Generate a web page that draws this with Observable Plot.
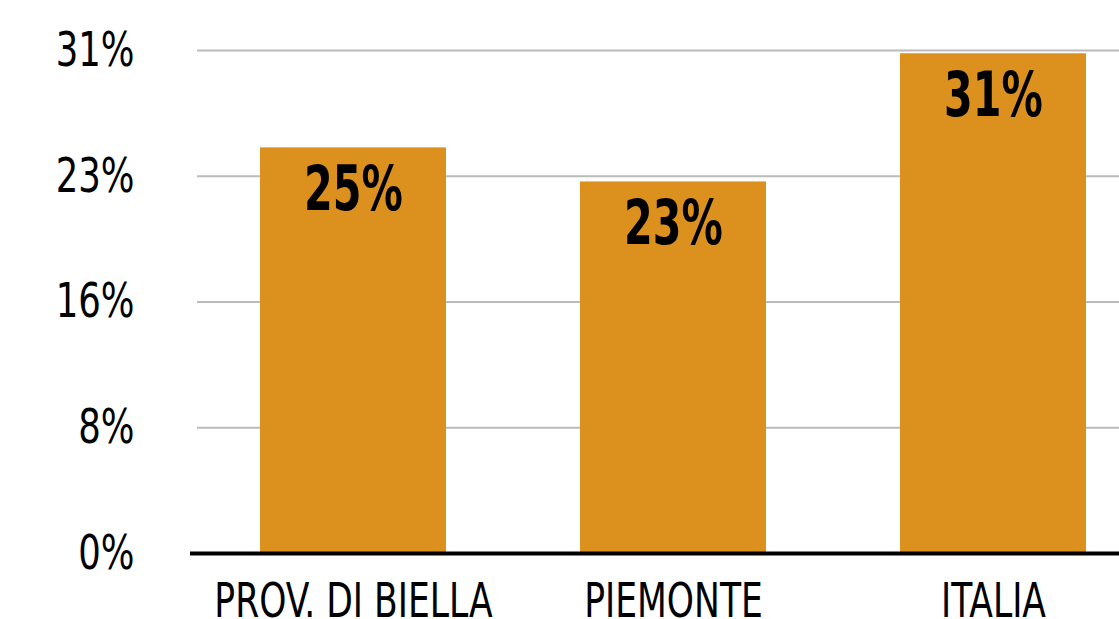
<!DOCTYPE html>
<html>
<head>
<meta charset="utf-8">
<script src="https://cdn.jsdelivr.net/npm/d3@7"></script>
<script src="https://cdn.jsdelivr.net/npm/@observablehq/plot@0.6"></script>
<style>
  html, body { margin: 0; padding: 0; background: #fff; }
  #chart svg { display: block; }
</style>
</head>
<body>
<div id="chart"></div>
<script>
const categories = ["PROV. DI BIELLA", "PIEMONTE", "ITALIA"];
const values = [25.0, 22.9, 30.8];
const valueLabels = ["25%", "23%", "31%"];
const yTicks = [0, 7.75, 15.5, 23.25, 31];

const data = categories.map((c, i) => ({cat: c, value: values[i], label: valueLabels[i]}));
const font = "'DejaVu Sans Condensed', 'DejaVu Sans', sans-serif";

const chart = Plot.plot({
  width: 1119,
  height: 619,
  marginTop: 50,
  marginBottom: 66,
  marginLeft: 197,
  marginRight: 0,
  style: {fontFamily: font, fontSize: "48px", color: "#000", background: "#fff"},
  x: {domain: categories, paddingInner: 0.42, paddingOuter: 0.15, align: 0.653, label: null},
  y: {domain: [0, 31], label: null},
  marks: [
    Plot.gridY(yTicks, {stroke: "#bbbbbb", strokeOpacity: 1, strokeWidth: 2}),
    Plot.axisY(yTicks, {tickSize: 0, tickPadding: 63, tickFormat: d => Math.round(d) + "%", fontSize: 48, label: null, className: "squeeze-y"}),
    Plot.axisX({tickSize: 0, tickPadding: 29, fontSize: 48, label: null, className: "squeeze-x"}),
    Plot.barY(data, {x: "cat", y: "value", fill: "#dc911e"}),
    Plot.ruleY([0], {stroke: "#000", strokeWidth: 4, insetLeft: -7}),
    Plot.text(data, {x: "cat", y: "value", text: "label", dy: 42, lineAnchor: "middle", fontSize: 62, fontWeight: "bold", fill: "#000", className: "squeeze-b"})
  ]
});
document.getElementById("chart").appendChild(chart);

// Narrow the glyphs horizontally to mimic the condensed DIN-like face of the reference
const squeeze = {"squeeze-y": 0.82, "squeeze-x": 0.80, "squeeze-b": 0.74};
Object.entries(squeeze).forEach(([cls, f]) => {
  chart.querySelectorAll("." + cls + " text").forEach(t => {
    const len = t.getComputedTextLength();
    t.setAttribute("textLength", (len * f).toFixed(1));
    t.setAttribute("lengthAdjust", "spacingAndGlyphs");
  });
});
</script>
</body>
</html>
